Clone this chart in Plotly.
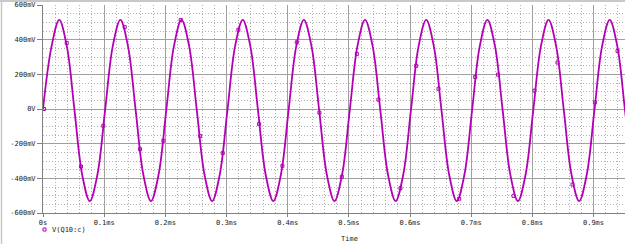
import plotly.graph_objects as go

# ---- data ----
t_ms = [0.0, 0.014, 0.0265, 0.039, 0.0515, 0.064, 0.0765, 0.089,
        0.1015, 0.114, 0.1265, 0.139, 0.1515, 0.164, 0.1765, 0.189,
        0.2015, 0.214, 0.2265, 0.239, 0.2515, 0.264, 0.2765, 0.289,
        0.3015, 0.314, 0.3265, 0.339, 0.3515, 0.364, 0.3765, 0.389,
        0.4015, 0.414, 0.4265, 0.439, 0.4515, 0.464, 0.4765, 0.489,
        0.5015, 0.514, 0.5265, 0.539, 0.5515, 0.564, 0.5765, 0.589,
        0.6015, 0.614, 0.6265, 0.639, 0.6515, 0.664, 0.6765, 0.689,
        0.7015, 0.714, 0.7265, 0.739, 0.7515, 0.764, 0.7765, 0.789,
        0.8015, 0.814, 0.8265, 0.839, 0.8515, 0.864, 0.8765, 0.889,
        0.9015, 0.914, 0.9265, 0.939, 0.9515, 0.964]
v_mV = [0, 361, 514, 361, -8, -378, -531, -378,
        -8, 361, 514, 361, -8, -378, -531, -378,
        -8, 361, 514, 361, -8, -378, -531, -378,
        -8, 361, 514, 361, -8, -378, -531, -378,
        -8, 361, 514, 361, -8, -378, -531, -378,
        -8, 361, 514, 361, -8, -378, -531, -378,
        -8, 361, 514, 361, -8, -378, -531, -378,
        -8, 361, 514, 361, -8, -378, -531, -378,
        -8, 361, 514, 361, -8, -378, -531, -378,
        -8, 361, 514, 361, -8, -378]

marker_t = [0.0016, 0.0388, 0.0622, 0.0986, 0.1336, 0.1587, 0.1968, 0.2252,
            0.2568, 0.2939, 0.3194, 0.3533, 0.3914, 0.4149, 0.4519, 0.4885,
            0.5131, 0.5484, 0.5844, 0.6101, 0.6466, 0.6804, 0.7066, 0.7437,
            0.7692, 0.8036, 0.8412, 0.8657, 0.9023, 0.9393]
marker_v = [0, 381, -332, -97, 472, -232, -183, 514,
            -156, -254, 457, -87, -328, 385, -21, -391,
            318, 54, -457, 249, 117, -518, 185, 198,
            -501, 106, 268, -436, 38, 335]

x_tickvals = [0, 0.1, 0.2, 0.3, 0.4, 0.5, 0.6, 0.7, 0.8, 0.9]
x_ticktext = ["0s", "0.1ms", "0.2ms", "0.3ms", "0.4ms", "0.5ms",
              "0.6ms", "0.7ms", "0.8ms", "0.9ms"]
y_tickvals = [-600, -400, -200, 0, 200, 400, 600]
y_ticktext = ["-600mV", "-400mV", "-200mV", "0V", "200mV", "400mV", "600mV"]

series_name = "V(Q10:c)"
x_title = "Time"

# ---- styling ----
W, H = 625, 244
ML, MR, MT, MB = 43, 0, 5, 31
PW, PH = W - ML - MR, H - MT - MB
TRACE = "#b400b4"
FONT = dict(family="DejaVu Sans Mono", size=7, color="#202020")
GRID = "#a0a0a0"
MINOR = "#b0b0b0"


def px_x(px):
    return (px - ML) / PW


def px_y(py):
    return (H - MB - py) / PH


fig = go.Figure()
fig.add_trace(go.Scatter(x=t_ms, y=v_mV, mode="lines",
                         line=dict(color=TRACE, width=1.8, shape="spline"),
                         showlegend=False, hoverinfo="skip"))
fig.add_trace(go.Scatter(x=marker_t, y=marker_v, mode="markers",
                         marker=dict(symbol="square-open", size=3,
                                     color=TRACE, line=dict(width=1, color=TRACE)),
                         showlegend=False))

fig.update_layout(
    width=W, height=H,
    margin=dict(l=ML, r=MR, t=MT, b=MB),
    paper_bgcolor="white", plot_bgcolor="white",
    font=FONT,
    xaxis=dict(range=[0, 0.9515], tickmode="array", tickvals=x_tickvals,
               ticktext=x_ticktext, tickfont=FONT,
               showgrid=True, gridcolor=GRID, gridwidth=1,
               showline=True, linecolor="#808080", linewidth=1,
               ticks="outside", ticklen=3, tickcolor="#808080",
               zeroline=False,
               minor=dict(tickmode="linear", tick0=0, dtick=0.02,
                          showgrid=True, gridcolor=MINOR,
                          griddash="1px,2px", ticks="")),
    yaxis=dict(range=[-600, 600], tickmode="array", tickvals=y_tickvals,
               ticktext=y_ticktext, tickfont=FONT,
               showgrid=True, gridcolor=GRID, gridwidth=1,
               showline=True, linecolor="#808080", linewidth=1,
               ticks="outside", ticklen=5, tickcolor="#808080",
               zeroline=False,
               minor=dict(tickmode="linear", tick0=0, dtick=50,
                          showgrid=True, gridcolor=MINOR,
                          griddash="1px,2px", ticks="")),
)

# window frame lines (top and left)
fig.add_shape(type="line", xref="paper", yref="paper",
              x0=px_x(0), x1=px_x(W), y0=px_y(1), y1=px_y(1),
              line=dict(color="#c8c8c8", width=2))
fig.add_shape(type="line", xref="paper", yref="paper",
              x0=px_x(1.5), x1=px_x(1.5), y0=px_y(0), y1=px_y(H),
              line=dict(color="#c8c8c8", width=1.5))

# legend: square marker + series name
fig.add_shape(type="rect", xref="paper", yref="paper",
              x0=px_x(43), x1=px_x(46), y0=px_y(231), y1=px_y(228),
              line=dict(color=TRACE, width=1), fillcolor="rgba(0,0,0,0)")
fig.add_annotation(xref="paper", yref="paper", x=px_x(50), y=px_y(229.5),
                   text=series_name, showarrow=False, xanchor="left",
                   yanchor="middle", font=FONT)
fig.add_annotation(xref="paper", yref="paper", x=px_x(349), y=px_y(239),
                   text=x_title, showarrow=False, xanchor="center",
                   yanchor="middle", font=FONT)

fig.write_html("out.html")
